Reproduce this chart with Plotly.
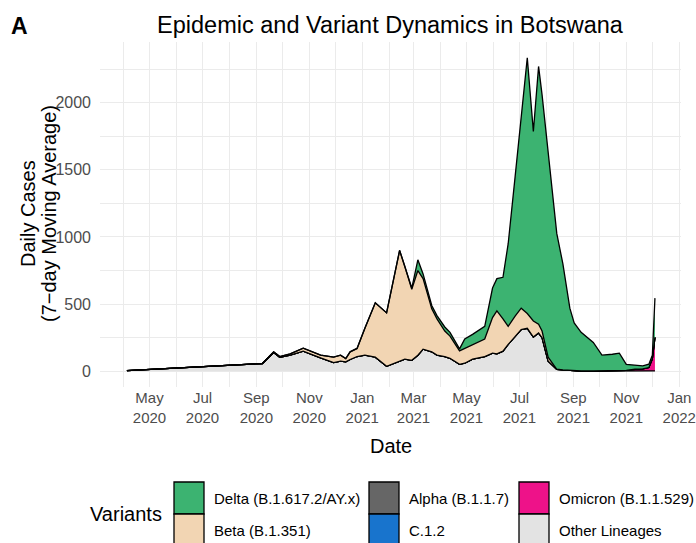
import plotly.graph_objects as go

# ---------------- data ----------------
dates = [
    "2020-04-05", "2020-09-08", "2020-09-21", "2020-09-28", "2020-10-10", "2020-10-25",
    "2020-11-14", "2020-11-29", "2020-12-07", "2020-12-13", "2020-12-18", "2020-12-26",
    "2021-01-04", "2021-01-16", "2021-01-29", "2021-02-13", "2021-02-19", "2021-02-27",
    "2021-03-06", "2021-03-12", "2021-03-22", "2021-03-28", "2021-04-06", "2021-04-12",
    "2021-04-23", "2021-04-29", "2021-05-08", "2021-05-22", "2021-05-31", "2021-06-05",
    "2021-06-12", "2021-06-18", "2021-06-26", "2021-07-03", "2021-07-10", "2021-07-17",
    "2021-07-23", "2021-07-27", "2021-08-03", "2021-08-13", "2021-08-20", "2021-08-28",
    "2021-09-02", "2021-09-10", "2021-09-24", "2021-10-04", "2021-10-16", "2021-10-24",
    "2021-11-01", "2021-11-11", "2021-11-20", "2021-11-27", "2021-12-01", "2021-12-04",
]
other_lineages = [
    5, 58, 140, 105, 120, 150, 100, 65, 75, 70, 88, 110,
    120, 105, 37, 75, 90, 82, 120, 165, 145, 120, 110, 97,
    52, 60, 90, 110, 135, 130, 150, 200, 260, 310, 320, 255,
    285, 250, 75, 15, 10, 5, 3, 2, 2, 2, 5, 5,
    5, 5, 3, 3, 3, 3,
]
omicron = [
    0, 0, 0, 0, 0, 0, 0, 0, 0, 0, 0, 0,
    0, 0, 0, 0, 0, 0, 0, 0, 0, 0, 0, 0,
    0, 0, 0, 0, 0, 0, 0, 0, 0, 0, 0, 0,
    0, 0, 0, 0, 0, 0, 0, 0, 0, 0, 0, 0,
    2, 10, 15, 25, 90, 250,
]
c12 = [
    0, 0, 0, 0, 0, 0, 0, 0, 0, 0, 0, 0,
    0, 0, 0, 0, 0, 0, 0, 0, 0, 0, 0, 0,
    0, 0, 0, 0, 0, 0, 0, 0, 0, 0, 0, 0,
    0, 0, 0, 0, 0, 0, 0, 0, 0, 0, 0, 0,
    0, 0, 0, 0, 0, 0,
]
alpha = [
    0, 0, 0, 0, 0, 0, 0, 0, 0, 0, 0, 0,
    0, 0, 0, 0, 0, 0, 0, 0, 0, 0, 0, 0,
    0, 0, 0, 0, 0, 0, 0, 0, 0, 0, 0, 0,
    0, 0, 0, 0, 0, 0, 0, 0, 0, 0, 0, 0,
    0, 0, 0, 0, 0, 0,
]
beta = [
    0, 0, 5, 5, 10, 22, 20, 40, 45, 25, 57, 60,
    200, 405, 398, 825, 690, 528, 630, 525, 320, 270, 190, 165,
    100, 110, 110, 130, 265, 320, 240, 135, 150, 160, 110, 120,
    65, 50, 30, 0, 0, 0, 0, 0, 0, 0, 0, 0,
    0, 0, 0, 0, 0, 0,
]
delta = [
    0, 0, 0, 0, 0, 0, 0, 0, 0, 0, 0, 0,
    0, 0, 0, 0, 0, 10, 80, 35, 25, 25, 30, 28,
    15, 70, 75, 95, 220, 240, 310, 615, 1040, 1430, 1905, 1410,
    1920, 1760, 1545, 1010, 790, 465, 357, 288, 213, 118, 122, 130,
    45, 30, 22, 25, 27, 292,
]

# legend order (as displayed) and stacking order (bottom -> top)
legend_labels = ["Delta (B.1.617.2/AY.x)", "Beta (B.1.351)", "Alpha (B.1.1.7)",
                 "C.1.2", "Omicron (B.1.1.529)", "Other Lineages"]
colors = {
    "Delta (B.1.617.2/AY.x)": "#3CB371",
    "Beta (B.1.351)": "#F2D5B3",
    "Alpha (B.1.1.7)": "#666666",
    "C.1.2": "#1874CD",
    "Omicron (B.1.1.529)": "#EE1289",
    "Other Lineages": "#E3E3E3",
}
stack = [
    ("Other Lineages", other_lineages),
    ("Omicron (B.1.1.529)", omicron),
    ("C.1.2", c12),
    ("Alpha (B.1.1.7)", alpha),
    ("Beta (B.1.351)", beta),
    ("Delta (B.1.617.2/AY.x)", delta),
]

x_tickvals = ["2020-05-01", "2020-07-01", "2020-09-01", "2020-11-01", "2021-01-01", "2021-03-01",
              "2021-05-01", "2021-07-01", "2021-09-01", "2021-11-01", "2022-01-01"]
x_ticktext = ["May<br>2020", "Jul<br>2020", "Sep<br>2020", "Nov<br>2020", "Jan<br>2021", "Mar<br>2021",
              "May<br>2021", "Jul<br>2021", "Sep<br>2021", "Nov<br>2021", "Jan<br>2022"]
x_minorvals = ["2020-04-01", "2020-06-01", "2020-08-01", "2020-10-01", "2020-12-01", "2021-02-01",
               "2021-04-01", "2021-06-01", "2021-08-01", "2021-10-01", "2021-12-01"]
x_range = ["2020-03-05", "2022-01-03"]
y_tickvals = [0, 500, 1000, 1500, 2000]
y_minorvals = [250, 750, 1250, 1750, 2250]

# ---------------- figure ----------------
W, H = 696, 543
L, R, T, B = 100, 15, 42, 156
FONT = "Liberation Sans, Arial, sans-serif"

fig = go.Figure()
for name, vals in stack:
    fig.add_trace(go.Scatter(
        x=dates, y=vals, name=name, mode="lines", stackgroup="one",
        line=dict(color="black", width=1.3), fillcolor=colors[name],
        showlegend=False, hoverinfo="x+y+name",
    ))

grid = "#EBEBEB"
fig.update_layout(
    width=W, height=H,
    margin=dict(l=L, r=R, t=T, b=B, autoexpand=False),
    paper_bgcolor="white", plot_bgcolor="white",
    font=dict(family=FONT, color="#000000"),
    showlegend=False,
    title=dict(text="Epidemic and Variant Dynamics in Botswana",
               x=390 / W, xanchor="center", y=1 - 25 / H, yanchor="middle",
               xref="container", yref="container",
               font=dict(size=23.5, color="#000000", family=FONT)),
    xaxis=dict(
        type="date", range=x_range, automargin=False,
        tickmode="array", tickvals=x_tickvals, ticktext=x_ticktext,
        tickfont=dict(size=15, color="#4D4D4D", family=FONT),
        showgrid=True, gridcolor=grid, gridwidth=1.1,
        minor=dict(tickmode="array", tickvals=x_minorvals, showgrid=True,
                   gridcolor=grid, gridwidth=0.6),
        zeroline=False, showline=False, ticks="", ticklabelstandoff=0,
    ),
    yaxis=dict(
        range=[-117, 2452], tickmode="array", tickvals=y_tickvals, automargin=False,
        tickfont=dict(size=16, color="#4D4D4D", family=FONT),
        showgrid=True, gridcolor=grid, gridwidth=1.1,
        minor=dict(tickmode="array", tickvals=y_minorvals, showgrid=True,
                   gridcolor=grid, gridwidth=0.6),
        zeroline=False, showline=False, ticks="", ticklabelstandoff=8,
    ),
)

pw = W - L - R
ph = H - T - B


def px_x(px):
    return (px - L) / pw


def px_y(py):
    return (H - B - py) / ph


def text_at(text, x, y, size, xanchor="center", angle=0):
    return dict(text=text, x=px_x(x), y=px_y(y), xref="paper", yref="paper",
                xanchor=xanchor, yanchor="middle", textangle=angle, showarrow=False,
                font=dict(size=size, family=FONT, color="#000000"))


annotations = [
    text_at("<b>A</b>", 19, 26, 23),
    text_at("Date", 391, 446, 20),
    text_at("Daily Cases", 28, 214, 20, angle=-90),
    text_at("(7\u2212day Moving Average)", 49, 214, 20, angle=-90),
    text_at("Variants", 164, 514, 20, xanchor="right"),
]
# manual legend keys (3 columns x 2 rows)
key_cols = [174, 369, 519]
key_rows = [(482, 514), (514, 546)]
shapes = []
for i, label in enumerate(legend_labels):
    col, row = divmod(i, 2)
    x0 = key_cols[col]
    y0, y1 = key_rows[row]
    shapes.append(dict(type="rect", xref="paper", yref="paper",
                       x0=px_x(x0), x1=px_x(x0 + 30), y0=px_y(y1), y1=px_y(y0),
                       fillcolor=colors[label], line=dict(color="black", width=1.3),
                       layer="above"))
    annotations.append(text_at(label, x0 + 38, (y0 + y1) / 2, 15, xanchor="left"))

fig.update_layout(annotations=annotations, shapes=shapes)
fig.write_html("out.html", config={"displayModeBar": False},
               post_script="document.body.style.margin='0px';")
